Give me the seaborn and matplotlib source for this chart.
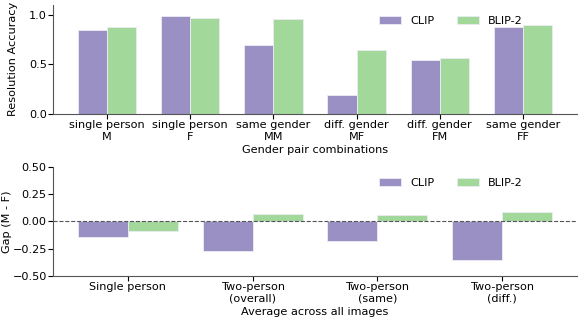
import matplotlib.pyplot as plt
import pandas as pd
import seaborn as sns

models = ['CLIP', 'BLIP-2']
colors = ['#9a90c4', '#a2d99b']

pair_labels = ['single person\nM', 'single person\nF', 'same gender\nMM',
               'diff. gender\nMF', 'diff. gender\nFM', 'same gender\nFF']
clip_acc = [0.85, 0.99, 0.70, 0.19, 0.54, 0.875]
blip_acc = [0.88, 0.965, 0.955, 0.65, 0.56, 0.90]

avg_labels = ['Single person', 'Two-person\n(overall)', 'Two-person\n(same)', 'Two-person\n(diff.)']
clip_gap = [-0.14, -0.27, -0.177, -0.35]
blip_gap = [-0.092, 0.07, 0.058, 0.089]

top_df = pd.DataFrame({
    'pair': pair_labels * 2,
    'model': ['CLIP'] * 6 + ['BLIP-2'] * 6,
    'acc': clip_acc + blip_acc,
})
bot_df = pd.DataFrame({
    'group': avg_labels * 2,
    'model': ['CLIP'] * 4 + ['BLIP-2'] * 4,
    'gap': clip_gap + blip_gap,
})

fs = 8.1
fig = plt.figure(figsize=(5.81, 3.23), dpi=100)
ax1 = fig.add_axes([0.0912, 0.647, 0.902, 0.338])
ax2 = fig.add_axes([0.0912, 0.1455, 0.902, 0.338])

sns.barplot(data=top_df, x='pair', y='acc', hue='model', palette=colors,
            saturation=1, width=0.7, edgecolor='#ecebf4', linewidth=0.6, ax=ax1)
ax1.set_ylim(0, 1.1)
ax1.set_xlim(-0.65, 5.65)
ax1.set_yticks([0, 0.5, 1.0])
ax1.set_ylabel('Resolution Accuracy', fontsize=fs, labelpad=8)
ax1.set_xlabel('Gender pair combinations', fontsize=fs, labelpad=2)
ax1.tick_params(labelsize=fs, pad=1)
ax1.legend(frameon=False, ncol=2, fontsize=fs, loc='upper right',
           bbox_to_anchor=(0.916, 0.993), handlelength=2, columnspacing=2.0)

sns.barplot(data=bot_df, x='group', y='gap', hue='model', palette=colors,
            saturation=1, width=0.8, edgecolor='#ecebf4', linewidth=0.6, ax=ax2)
ax2.axhline(0, color='#555555', linestyle='--', linewidth=0.8)
ax2.set_ylim(-0.5, 0.5)
ax2.set_xlim(-0.6, 3.6)
ax2.set_yticks([-0.5, -0.25, 0, 0.25, 0.5])
ax2.set_ylabel('Gap (M - F)', fontsize=fs, labelpad=0.5)
ax2.set_xlabel('Average across all images', fontsize=fs, labelpad=2)
ax2.tick_params(labelsize=fs, pad=1)
ax2.legend(frameon=False, ncol=2, fontsize=fs, loc='upper right',
           bbox_to_anchor=(0.916, 0.993), handlelength=2, columnspacing=2.0)

for ax in (ax1, ax2):
    sns.despine(ax=ax)
    for s in ('left', 'bottom'):
        ax.spines[s].set_color('#555555')

fig.savefig('out.png', dpi=100)
